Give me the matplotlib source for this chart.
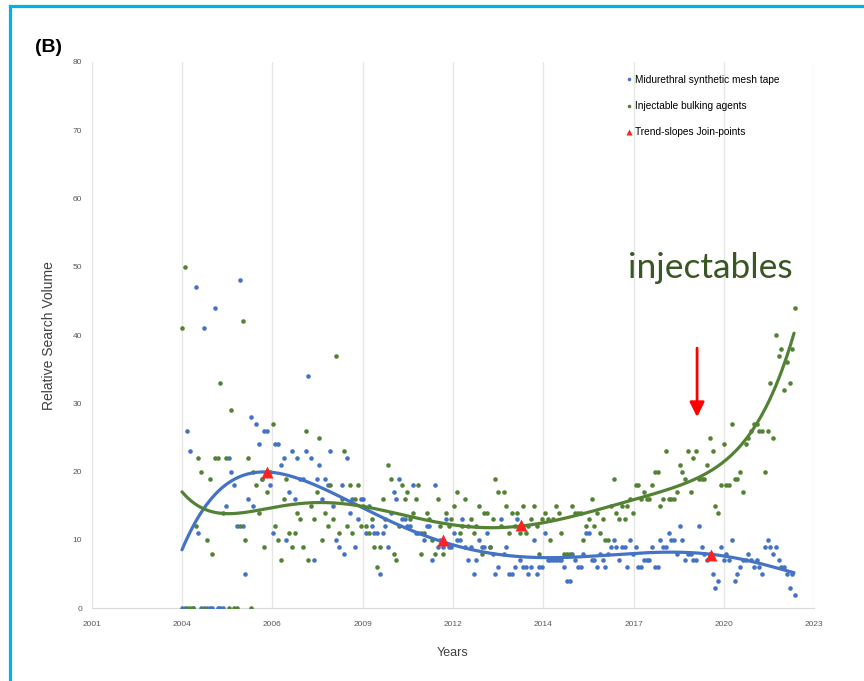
import numpy as np
import pandas as pd
import matplotlib
matplotlib.use('Agg')
import matplotlib.pyplot as plt
import matplotlib.dates as mdates
from matplotlib.lines import Line2D

plt.rcParams['font.family'] = ['Liberation Sans', 'DejaVu Sans']

# monthly relative search volume, Jan 2004 - Aug 2022
mesh_tape = [
    0, 0, 26, 23, 0, 47, 11, 0, 41, 0, 0, 0,        # 2004
    44, 0, 0, 0, 15, 22, 20, 18, 12, 48, 12, 5,     # 2005
    16, 28, 15, 27, 24, 19, 26, 26, 18, 11, 24, 24,  # 2006
    21, 22, 10, 17, 23, 16, 22, 19, 19, 23, 34, 22,  # 2007
    7, 19, 21, 16, 19, 18, 23, 15, 10, 9, 18, 8,     # 2008
    22, 14, 16, 9, 13, 16, 16, 11, 15, 12, 11, 11,   # 2009
    5, 11, 12, 9, 14, 17, 16, 19, 13, 13, 12, 12,    # 2010
    18, 11, 11, 11, 10, 12, 12, 7, 18, 9, 10, 9,     # 2011
    13, 9, 9, 11, 10, 10, 13, 9, 7, 9, 5, 7,         # 2012
    10, 9, 9, 11, 9, 8, 5, 6, 13, 8, 9, 5,           # 2013
    5, 6, 13, 7, 6, 6, 5, 6, 10, 5, 6, 6,            # 2014
    11, 7, 7, 7, 7, 7, 7, 6, 4, 4, 8, 7,             # 2015
    6, 6, 8, 11, 11, 7, 7, 6, 8, 7, 6, 8,            # 2016
    9, 10, 9, 7, 9, 9, 6, 10, 8, 9, 6, 6,            # 2017
    7, 7, 7, 9, 6, 6, 10, 9, 9, 11, 10, 10,          # 2018
    8, 12, 10, 7, 8, 8, 7, 7, 12, 9, 8, 7,           # 2019
    8, 5, 3, 4, 9, 7, 8, 7, 10, 4, 5, 6,             # 2020
    7, 7, 8, 7, 6, 7, 6, 5, 9, 10, 9, 8,             # 2021
    9, 7, 6, 6, 5, 3, 5, 2,                          # 2022
]
bulking_agents = [
    41, 50, 0, 0, 0, 12, 22, 20, 0, 10, 19, 8,       # 2004
    22, 22, 33, 14, 22, 0, 29, 0, 0, 12, 42, 10,     # 2005
    22, 0, 20, 18, 14, 19, 9, 17, 20, 27, 12, 10,    # 2006
    7, 16, 19, 11, 9, 11, 14, 13, 9, 26, 7, 15,      # 2007
    13, 17, 25, 10, 14, 12, 18, 13, 37, 11, 16, 23,  # 2008
    12, 18, 11, 16, 18, 12, 15, 12, 11, 13, 9, 6,    # 2009
    9, 16, 13, 21, 19, 8, 7, 12, 18, 16, 17, 13,     # 2010
    14, 16, 18, 8, 11, 14, 13, 10, 8, 16, 12, 8,     # 2011
    14, 12, 13, 15, 17, 11, 12, 16, 12, 13, 11, 12,  # 2012
    15, 8, 14, 14, 9, 13, 19, 17, 12, 17, 15, 11,    # 2013
    14, 12, 14, 11, 15, 11, 12, 13, 15, 12, 8, 13,   # 2014
    14, 13, 10, 13, 15, 14, 11, 8, 8, 8, 15, 14,     # 2015
    14, 14, 10, 12, 13, 16, 12, 14, 11, 13, 10, 10,  # 2016
    15, 19, 14, 13, 15, 13, 15, 16, 14, 18, 18, 16,  # 2017
    17, 16, 16, 18, 20, 20, 15, 16, 23, 16, 16, 16,  # 2018
    17, 21, 20, 19, 23, 17, 22, 23, 19, 19, 19, 21,  # 2019
    25, 23, 15, 14, 18, 24, 18, 18, 27, 19, 19, 20,  # 2020
    17, 24, 25, 26, 27, 27, 26, 26, 20, 26, 33, 25,  # 2021
    40, 37, 38, 32, 36, 33, 38, 44,                  # 2022
]

# trend curves (decimal year, value)
mesh_trend_x = [2004.0, 2004.55, 2005.05, 2005.55, 2006.58, 2007.06, 2007.58,
                2008.58, 2009.60, 2010.61, 2011.58, 2012.58, 2013.60, 2014.61,
                2015.61, 2016.63, 2017.64, 2018.64, 2019.66, 2020.67, 2021.67,
                2022.55]
mesh_trend_y = [8.5, 13.9, 17.0, 18.7, 19.7, 19.6, 19.2,
                17.0, 14.3, 11.9, 10.2, 9.0, 8.0, 7.4,
                7.3, 7.7, 8.1, 8.2, 8.1, 7.4, 6.4,
                5.2]
bulking_trend_x = [2004.0, 2004.70, 2005.30, 2005.55, 2006.30, 2006.58, 2007.33,
                   2007.58, 2008.58, 2009.60, 2010.61, 2011.58, 2012.58, 2013.60,
                   2014.61, 2015.61, 2016.63, 2017.64, 2018.64, 2019.66, 2020.15,
                   2020.67, 2021.17, 2021.67, 2021.91, 2022.20, 2022.55]
bulking_trend_y = [17.1, 14.3, 14.0, 13.9, 14.3, 14.6, 15.3,
                   15.3, 15.4, 14.6, 13.9, 12.9, 12.0, 11.8,
                   12.1, 13.1, 14.6, 15.9, 17.3, 19.2, 20.4,
                   22.4, 25.2, 29.2, 31.9, 35.0, 40.2]

join_dates = ['2006-07-30', '2011-11-27', '2014-04-11', '2020-01-14']
join_values = [19.9, 10.0, 12.2, 7.8]

BLUE = '#4472c4'
GREEN = '#548235'
RED = '#ff2020'

dates = pd.date_range('2004-01-01', periods=len(mesh_tape), freq='MS')
start = dates[0]


def year_to_date(yrs):
    return start + pd.to_timedelta((np.asarray(yrs) - 2004.0) * 365.25, unit='D')


fig = plt.figure(figsize=(8.64, 6.81), dpi=100)
ax = fig.add_axes([0.1061, 0.1068, 0.8364, 0.8022])

ax.plot(dates, mesh_tape, 'o', ms=3.3, color=BLUE, mec='none', zorder=3)
ax.plot(dates, bulking_agents, 'o', ms=3.3, color=GREEN, mec='none', zorder=3)

# smooth polynomial trend through the read trend points
for tx, ty, col in [(mesh_trend_x, mesh_trend_y, BLUE),
                    (bulking_trend_x, bulking_trend_y, GREEN)]:
    coef = np.polyfit(np.asarray(tx) - 2004, ty, 7)
    xs = np.linspace(tx[0], tx[-1], 400)
    ax.plot(year_to_date(xs), np.polyval(coef, xs - 2004), color=col, lw=2.3,
            zorder=4, solid_capstyle='round')

ax.plot(pd.to_datetime(join_dates), join_values, '^', ms=8.5, color=RED,
        mec='none', zorder=5)

# Excel date axis: major unit 1000 days
x0 = start - pd.Timedelta(days=1000)
x1 = start + pd.Timedelta(days=7000)
ax.set_xlim(x0, x1)
ax.set_xticks(pd.date_range(x0, x1, freq='1000D'))
ax.xaxis.set_major_formatter(mdates.DateFormatter('%Y'))
ax.set_ylim(0, 80)
ax.set_yticks(range(0, 81, 10))

ax.grid(axis='x', color='#e6e6e6', lw=1)
ax.set_axisbelow(True)
for s in ['top', 'right', 'left']:
    ax.spines[s].set_visible(False)
ax.spines['bottom'].set_color('#d9d9d9')
ax.tick_params(length=0, labelsize=6, labelcolor='#595959')
ax.tick_params(axis='x', pad=9)
ax.tick_params(axis='y', pad=7)

ax.set_xlabel('Years', fontsize=9, color='#404040', labelpad=14)
ax.set_ylabel('Relative Search Volume', fontsize=10, color='#404040', labelpad=12)

handles = [
    Line2D([], [], marker='o', ls='none', ms=2.6, color=BLUE, mec='none'),
    Line2D([], [], marker='o', ls='none', ms=2.6, color=GREEN, mec='none'),
    Line2D([], [], marker='^', ls='none', ms=5, color=RED, mec='none'),
]
labels = ['Midurethral synthetic mesh tape', 'Injectable bulking agents',
          'Trend-slopes Join-points']
ax.legend(handles, labels, loc='upper left',
          bbox_to_anchor=(626 / 864, 1 - 75 / 681),
          bbox_transform=fig.transFigure, frameon=False, fontsize=7.3,
          handlelength=0.5, handletextpad=0.35, labelspacing=1.6,
          borderpad=0, borderaxespad=0)

# annotation
ax.annotate('', xy=(pd.Timestamp('2019-08-12'), 27.6),
            xytext=(pd.Timestamp('2019-08-12'), 38.5),
            arrowprops=dict(arrowstyle='-|>', color='#ff0000', lw=2,
                            mutation_scale=22))
ax.text(pd.Timestamp('2017-07-09'), 49.8, 'injectables', fontsize=25.5,
        family=['Lato', 'DejaVu Sans'], color='#385723', va='center', ha='left')

fig.text(35 / 864, 1 - 48 / 681, '(B)', fontsize=14, fontweight='bold',
         va='center', ha='left')

# slide frame
fig.add_artist(Line2D([10 / 864, 1], [1 - 5.5 / 681, 1 - 5.5 / 681],
                      color='#00b0f0', lw=2.3))
fig.add_artist(Line2D([10 / 864, 10 / 864], [0, 1 - 5.5 / 681],
                      color='#00b0f0', lw=2.3))

fig.savefig('out.png', dpi=100)
